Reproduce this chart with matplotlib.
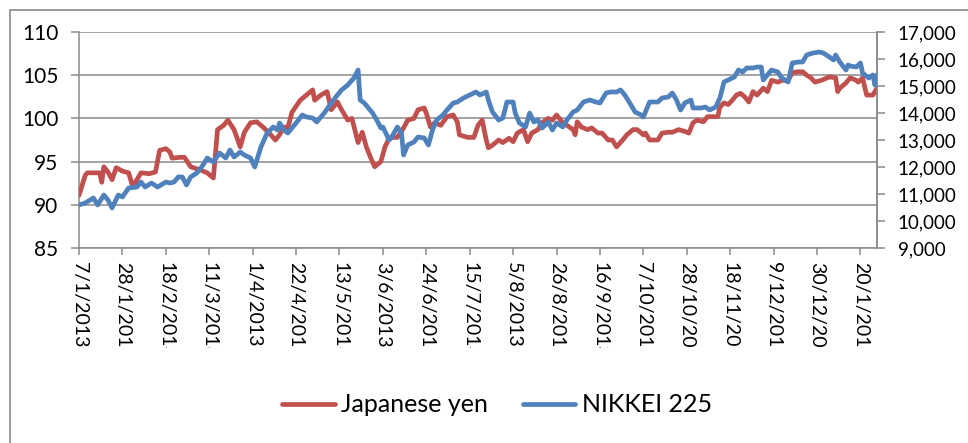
import matplotlib
matplotlib.use('Agg')
import matplotlib.pyplot as plt
import pandas as pd
from matplotlib.patches import Rectangle
from matplotlib.transforms import Bbox, TransformedBbox
from matplotlib.ticker import FuncFormatter
from matplotlib.lines import Line2D

plt.rcParams['font.family'] = ['Lato', 'DejaVu Sans']

# ---------------- data ----------------
yen_dates = [
    "2013-01-07", "2013-01-10", "2013-01-11", "2013-01-17", "2013-01-18", "2013-01-19", "2013-01-21",
    "2013-01-23", "2013-01-25", "2013-01-28", "2013-01-31", "2013-02-02", "2013-02-04", "2013-02-06",
    "2013-02-10", "2013-02-13", "2013-02-15", "2013-02-18", "2013-02-20", "2013-02-21", "2013-02-25",
    "2013-02-27", "2013-03-02", "2013-03-07", "2013-03-10", "2013-03-13", "2013-03-15", "2013-03-18",
    "2013-03-20", "2013-03-23", "2013-03-26", "2013-03-28", "2013-03-31", "2013-04-03", "2013-04-06",
    "2013-04-09", "2013-04-12", "2013-04-14", "2013-04-16", "2013-04-18", "2013-04-20", "2013-04-24",
    "2013-04-27", "2013-04-30", "2013-05-01", "2013-05-04", "2013-05-07", "2013-05-09", "2013-05-12",
    "2013-05-14", "2013-05-17", "2013-05-19", "2013-05-22", "2013-05-24", "2013-05-26", "2013-05-28",
    "2013-05-30", "2013-06-02", "2013-06-04", "2013-06-06", "2013-06-08", "2013-06-10", "2013-06-13",
    "2013-06-15", "2013-06-18", "2013-06-20", "2013-06-23", "2013-06-24", "2013-06-26", "2013-06-28",
    "2013-07-01", "2013-07-04", "2013-07-07", "2013-07-09", "2013-07-10", "2013-07-14", "2013-07-17",
    "2013-07-19", "2013-07-21", "2013-07-23", "2013-07-24", "2013-07-26", "2013-07-29", "2013-07-31",
    "2013-08-03", "2013-08-05", "2013-08-07", "2013-08-10", "2013-08-12", "2013-08-14", "2013-08-17",
    "2013-08-19", "2013-08-22", "2013-08-24", "2013-08-26", "2013-08-29", "2013-08-31", "2013-09-03",
    "2013-09-04", "2013-09-05", "2013-09-07", "2013-09-10", "2013-09-12", "2013-09-15", "2013-09-17",
    "2013-09-20", "2013-09-22", "2013-09-24", "2013-09-27", "2013-09-29", "2013-10-02", "2013-10-04",
    "2013-10-07", "2013-10-08", "2013-10-10", "2013-10-14", "2013-10-16", "2013-10-19", "2013-10-21",
    "2013-10-24", "2013-10-27", "2013-10-29", "2013-10-31", "2013-11-02", "2013-11-05", "2013-11-07",
    "2013-11-09", "2013-11-12", "2013-11-13", "2013-11-15", "2013-11-17", "2013-11-19", "2013-11-21",
    "2013-11-23", "2013-11-25", "2013-11-27", "2013-11-29", "2013-12-01", "2013-12-04", "2013-12-06",
    "2013-12-08", "2013-12-11", "2013-12-13", "2013-12-16", "2013-12-18", "2013-12-21", "2013-12-23",
    "2013-12-25", "2013-12-27", "2013-12-29", "2014-01-01", "2014-01-03", "2014-01-05", "2014-01-08",
    "2014-01-09", "2014-01-10", "2014-01-13", "2014-01-15", "2014-01-18", "2014-01-19", "2014-01-21",
    "2014-01-23", "2014-01-26", "2014-01-28",
]
yen_values = [
    91.1, 93.4, 93.7, 93.7, 92.6, 94.4, 93.8,
    92.9, 94.3, 93.9, 93.7, 92.1, 92.9, 93.7,
    93.6, 93.8, 96.3, 96.5, 96.1, 95.4, 95.5,
    95.5, 94.4, 94.0, 93.7, 93.1, 98.7, 99.2,
    99.8, 98.7, 96.7, 98.4, 99.5, 99.6, 99.0,
    98.3, 97.5, 98.1, 99.0, 98.9, 100.7, 102.1,
    102.7, 103.3, 102.1, 102.7, 103.1, 101.0, 101.9,
    101.0, 99.8, 100.0, 97.2, 98.4, 96.7, 95.5,
    94.4, 95.0, 96.7, 97.7, 97.8, 97.8, 98.9,
    99.8, 100.0, 101.0, 101.2, 100.6, 99.0, 99.5,
    99.2, 100.2, 100.4, 99.6, 98.1, 97.8, 97.8,
    99.2, 99.8, 97.5, 96.6, 96.9, 97.5, 97.2,
    97.7, 97.3, 98.3, 98.7, 97.3, 98.3, 98.7,
    99.5, 100.0, 99.8, 100.4, 99.5, 99.2, 98.7,
    98.1, 99.6, 99.0, 98.7, 98.9, 98.3, 98.3,
    97.5, 97.5, 96.7, 97.5, 98.1, 98.7, 98.7,
    98.1, 98.3, 97.5, 97.5, 98.3, 98.4, 98.4,
    98.7, 98.5, 98.3, 99.5, 99.8, 99.6, 100.2,
    100.2, 100.2, 101.3, 101.8, 101.6, 102.1, 102.7,
    102.9, 102.5, 101.9, 103.1, 102.7, 103.5, 103.1,
    104.4, 104.2, 104.4, 104.4, 105.3, 105.4, 105.4,
    105.0, 104.7, 104.2, 104.4, 104.6, 104.8, 104.7,
    103.1, 103.5, 104.1, 104.7, 104.4, 104.2, 104.7,
    102.7, 102.7, 103.5,
]

nikkei_dates = [
    "2013-01-07", "2013-01-10", "2013-01-14", "2013-01-16", "2013-01-19", "2013-01-21", "2013-01-23",
    "2013-01-26", "2013-01-28", "2013-01-31", "2013-02-04", "2013-02-06", "2013-02-08", "2013-02-11",
    "2013-02-14", "2013-02-18", "2013-02-20", "2013-02-22", "2013-02-24", "2013-02-26", "2013-02-28",
    "2013-03-02", "2013-03-05", "2013-03-08", "2013-03-10", "2013-03-13", "2013-03-16", "2013-03-19",
    "2013-03-21", "2013-03-23", "2013-03-26", "2013-03-28", "2013-03-31", "2013-04-02", "2013-04-05",
    "2013-04-08", "2013-04-11", "2013-04-13", "2013-04-14", "2013-04-16", "2013-04-18", "2013-04-22",
    "2013-04-25", "2013-04-27", "2013-04-30", "2013-05-02", "2013-05-06", "2013-05-09", "2013-05-12",
    "2013-05-14", "2013-05-17", "2013-05-20", "2013-05-22", "2013-05-23", "2013-05-25", "2013-05-27",
    "2013-05-29", "2013-05-31", "2013-06-02", "2013-06-03", "2013-06-06", "2013-06-07", "2013-06-10",
    "2013-06-12", "2013-06-13", "2013-06-15", "2013-06-18", "2013-06-20", "2013-06-23", "2013-06-25",
    "2013-06-27", "2013-06-29", "2013-07-02", "2013-07-04", "2013-07-07", "2013-07-09", "2013-07-12",
    "2013-07-15", "2013-07-18", "2013-07-20", "2013-07-23", "2013-07-24", "2013-07-26", "2013-07-29",
    "2013-07-31", "2013-08-02", "2013-08-05", "2013-08-06", "2013-08-08", "2013-08-11", "2013-08-13",
    "2013-08-15", "2013-08-17", "2013-08-19", "2013-08-22", "2013-08-24", "2013-08-26", "2013-08-29",
    "2013-08-31", "2013-09-03", "2013-09-05", "2013-09-08", "2013-09-11", "2013-09-14", "2013-09-16",
    "2013-09-19", "2013-09-21", "2013-09-24", "2013-09-26", "2013-09-28", "2013-10-01", "2013-10-03",
    "2013-10-06", "2013-10-07", "2013-10-10", "2013-10-14", "2013-10-16", "2013-10-19", "2013-10-21",
    "2013-10-23", "2013-10-25", "2013-10-27", "2013-10-30", "2013-10-31", "2013-11-04", "2013-11-06",
    "2013-11-08", "2013-11-11", "2013-11-13", "2013-11-15", "2013-11-17", "2013-11-20", "2013-11-22",
    "2013-11-24", "2013-11-26", "2013-11-29", "2013-12-01", "2013-12-03", "2013-12-04", "2013-12-06",
    "2013-12-08", "2013-12-11", "2013-12-13", "2013-12-16", "2013-12-18", "2013-12-21", "2013-12-23",
    "2013-12-25", "2013-12-28", "2013-12-31", "2014-01-02", "2014-01-05", "2014-01-07", "2014-01-08",
    "2014-01-10", "2014-01-13", "2014-01-14", "2014-01-15", "2014-01-18", "2014-01-20", "2014-01-21",
    "2014-01-24", "2014-01-26", "2014-01-27", "2014-01-28",
]
nikkei_values = [
    10593, 10667, 10852, 10593, 10963, 10778, 10482,
    10963, 10889, 11222, 11259, 11444, 11259, 11407,
    11259, 11444, 11407, 11444, 11630, 11630, 11333,
    11630, 11778, 12074, 12333, 12185, 12519, 12333,
    12630, 12370, 12556, 12444, 12333, 12000, 12741,
    13259, 13482, 13370, 13630, 13370, 13259, 13630,
    13926, 13852, 13815, 13667, 14037, 14370, 14667,
    14852, 15037, 15297, 15593, 14482, 14370, 14185,
    14000, 13741, 13444, 13482, 13000, 13074, 13482,
    13259, 12444, 12815, 12926, 13111, 13074, 12815,
    13370, 13741, 13926, 14111, 14370, 14407, 14556,
    14667, 14778, 14667, 14778, 14482, 14037, 13741,
    13815, 14407, 14407, 14000, 13630, 13482, 14000,
    13667, 13741, 13444, 13667, 13370, 13630, 13482,
    13741, 14037, 14111, 14407, 14482, 14407, 14370,
    14741, 14778, 14778, 14852, 14667, 14296, 14037,
    13926, 13852, 14407, 14407, 14556, 14593, 14741,
    14482, 14111, 14370, 14482, 14185, 14185, 14222,
    14111, 14222, 14556, 15148, 15222, 15333, 15593,
    15519, 15667, 15667, 15704, 15704, 15222, 15407,
    15593, 15519, 15296, 15148, 15852, 15889, 15889,
    16148, 16222, 16259, 16222, 16074, 15963, 16148,
    15889, 15593, 15778, 15741, 15704, 15852, 15482,
    15296, 15407, 15037, 15407,
]

x_tick_labels = ["7/1/2013", "28/1/2013", "18/2/2013", "11/3/2013", "1/4/2013", "22/4/2013",
                 "13/5/2013", "3/6/2013", "24/6/2013", "15/7/2013", "5/8/2013", "26/8/2013",
                 "16/9/2013", "7/10/2013", "28/10/2013", "18/11/2013", "9/12/2013", "30/12/2013",
                 "20/1/2014"]
yen_ticks = [85, 90, 95, 100, 105, 110]
nikkei_ticks = [9000, 10000, 11000, 12000, 13000, 14000, 15000, 16000, 17000]
series_names = ["Japanese yen", "NIKKEI 225"]

# ---------------- plot ----------------
W, H = 968, 443
GRAY = '#8a8a8a'
RED = '#C0504D'
BLUE = '#4F81BD'

fig = plt.figure(figsize=(W / 100, H / 100), dpi=100)
fig.patch.set_facecolor('white')
ax = fig.add_axes([79 / W, 1 - 248 / H, (877 - 79) / W, (248 - 32) / H])
ax2 = ax.twinx()

yd = pd.to_datetime(yen_dates)
nd = pd.to_datetime(nikkei_dates)
ax.plot(yd, yen_values, color=RED, lw=3.4, solid_joinstyle='round', solid_capstyle='round', zorder=3)
ax2.plot(nd, nikkei_values, color=BLUE, lw=3.4, solid_joinstyle='round', solid_capstyle='round', zorder=3)

ax.set_ylim(85, 110)
ax.set_yticks(yen_ticks)
ax2.set_ylim(9000, 17000)
ax2.set_yticks(nikkei_ticks)
ax2.yaxis.set_major_formatter(FuncFormatter(lambda v, p: f'{int(v):,}'))

tick_dates = pd.to_datetime(x_tick_labels, format='%d/%m/%Y')
ax.set_xlim(yd[0], yd[-1])
ax.set_xticks(tick_dates)
ax.set_xticklabels(x_tick_labels, rotation=-90, fontsize=14)

ax.grid(axis='y', color=GRAY, lw=1.1)
ax.grid(axis='x', visible=False)
ax.set_axisbelow(True)

for a in (ax, ax2):
    a.spines['top'].set_visible(False)
    for s in ('left', 'right', 'bottom'):
        a.spines[s].set_color(GRAY)
        a.spines[s].set_linewidth(1.1)
ax2.spines['left'].set_visible(False)
ax2.spines['bottom'].set_visible(False)

ax.tick_params(axis='x', length=5, width=1.1, color=GRAY, pad=5, labelcolor='black')
ax.tick_params(axis='y', length=6, width=1.1, color=GRAY, pad=9, labelsize=15, labelcolor='black')
ax2.tick_params(axis='y', length=6, width=1.1, color=GRAY, pad=9, labelsize=13.5, labelcolor='black')

clip = TransformedBbox(Bbox([[0, 1 - 348 / H], [1, 1]]), fig.transFigure)
for lbl in ax.get_xticklabels():
    lbl.set_clip_box(clip)
    lbl.set_clip_on(True)

handles = [Line2D([], [], color=RED, lw=3.4, solid_capstyle='round'),
           Line2D([], [], color=BLUE, lw=3.4, solid_capstyle='round')]
fig.legend(handles, series_names, loc='center', bbox_to_anchor=(497 / W, 1 - 405 / H),
           ncol=2, frameon=False, fontsize=18, handlelength=2.1, handletextpad=0.25,
           columnspacing=1.4)

fig.add_artist(Rectangle((10 / W, -0.05), 1.2, (1 - 10 / H) + 0.05, transform=fig.transFigure,
                         fill=False, ec=GRAY, lw=1.2, clip_on=False))

fig.savefig('out.png', dpi=100)
